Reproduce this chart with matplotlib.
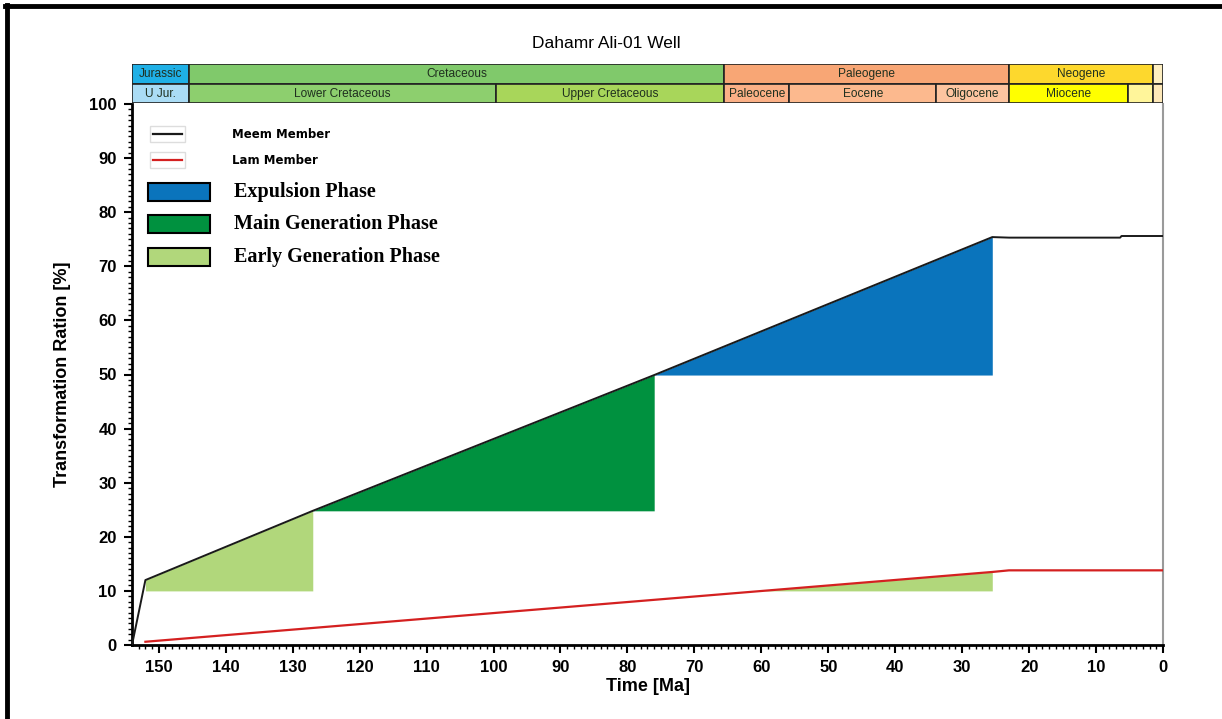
"""
Transformation ratio vs time, Dahamr Ali-01 well (Meem and Lam members).
"""
import numpy as np
import matplotlib
import matplotlib.pyplot as plt
from matplotlib.patches import Rectangle
from matplotlib.lines import Line2D

matplotlib.use('Agg')

# Transformation ratio curves (age in Ma, TR in %)
meem_age = [154, 152, 127, 76, 25.5, 23, 6.4, 6.2, 0]
meem_tr = [0, 12, 24.8, 49.9, 75.4, 75.3, 75.3, 75.6, 75.6]
lam_age = [152, 25.5, 23, 0]
lam_tr = [0.6, 13.5, 13.8, 13.8]

# Phase windows: (member, start Ma, end Ma, base TR, phase)
phase_member = ['meem', 'meem', 'meem', 'lam']
phase_start = [152, 127, 76, 60]
phase_end = [127, 76, 25.5, 25.5]
phase_base = [10, 24.8, 49.9, 10]
phase_kind = ['early', 'main', 'expulsion', 'early']

PHASE_COLORS = {
    'expulsion': '#0a74bc',
    'main': '#00913f',
    'early': '#b1d77b',
}
PHASE_LABELS = {
    'expulsion': 'Expulsion Phase',
    'main': 'Main Generation Phase',
    'early': 'Early Generation Phase',
}

# Geologic time scale rows: (name, start Ma, end Ma, colour)
period_names = ['Jurassic', 'Cretaceous', 'Paleogene', 'Neogene', '']
period_bounds = [154, 145.5, 65.5, 23.0, 1.5, 0]
period_colors = ['#1fb0e6', '#80c96b', '#f8a675', '#fdd82d', '#fdeec0']

epoch_names = ['U Jur.', 'Lower Cretaceous', 'Upper Cretaceous', 'Paleocene',
               'Eocene', 'Oligocene', 'Miocene', '', '']
epoch_bounds = [154, 145.5, 99.6, 65.5, 55.8, 33.9, 23.0, 5.3, 1.5, 0]
epoch_colors = ['#aadcf5', '#8dcf6e', '#a8d65a', '#fbb086', '#fcb98e',
                '#fdc5a0', '#ffff00', '#fff59a', '#fde8b8']

W, H = 1222, 719
TICK_FONT = ['Liberation Sans Narrow', 'Liberation Sans', 'DejaVu Sans']


def series_for(member):
    if member == 'meem':
        return meem_age, meem_tr
    return lam_age, lam_tr


fig = plt.figure(figsize=(W / 100, H / 100), dpi=100)
ax = fig.add_axes([132 / W, 74 / H, 1031 / W, 541 / H])
ts = fig.add_axes([132 / W, 1 - 103 / H, 1031 / W, 39 / H], sharex=ax)

# phase fills
for member, a0, a1, base, kind in zip(phase_member, phase_start, phase_end,
                                      phase_base, phase_kind):
    age, tr = series_for(member)
    x = np.linspace(a1, a0, 200)
    top = np.interp(x, age[::-1], tr[::-1])
    ax.fill_between(x, base, top, where=top >= base, color=PHASE_COLORS[kind],
                    linewidth=0, zorder=2, interpolate=True)

ax.plot(meem_age, meem_tr, color='#1a1a1a', linewidth=1.4, zorder=3)
ax.plot(lam_age, lam_tr, color='#d42020', linewidth=1.6, zorder=3)

ax.set_xlim(154, 0)
ax.set_ylim(0, 100)
ax.set_xticks(np.arange(0, 151, 10))
ax.set_xticks(np.arange(0, 154, 1), minor=True)
ax.set_yticks(np.arange(0, 101, 10))
ax.set_yticks(np.arange(0, 101, 1), minor=True)
ax.tick_params(which='major', direction='out', length=6, width=1.5,
               labelsize=12, pad=5)
ax.tick_params(which='minor', direction='out', length=3, width=1)
for lab in ax.get_xticklabels() + ax.get_yticklabels():
    lab.set_fontfamily(TICK_FONT)
    lab.set_fontweight('bold')
ax.spines['left'].set_linewidth(2)
ax.spines['bottom'].set_linewidth(2)
ax.spines['right'].set_color('#9a9a9a')
ax.spines['right'].set_linewidth(1.5)
ax.spines['top'].set_visible(False)

ax.set_xlabel('Time [Ma]', fontsize=13, fontweight='bold',
              family=['Liberation Sans', 'DejaVu Sans'], labelpad=2)
ax.set_ylabel('Transformation Ration [%]', fontsize=13, fontweight='bold',
              family=['Liberation Sans', 'DejaVu Sans'], labelpad=13)

# time scale bar
ts.set_ylim(0, 2)
ts.axis('off')
for names, bounds, colors, y0 in [(period_names, period_bounds, period_colors, 1),
                                  (epoch_names, epoch_bounds, epoch_colors, 0)]:
    for i, name in enumerate(names):
        a0, a1 = bounds[i], bounds[i + 1]
        ts.add_patch(Rectangle((a1, y0), a0 - a1, 1, facecolor=colors[i],
                               edgecolor='#222222', linewidth=1.2))
        if name:
            ts.text((a0 + a1) / 2, y0 + 0.47, name, ha='center', va='center',
                    fontsize=8.6, color='#1f2f1f',
                    family=['Liberation Sans', 'DejaVu Sans'])

fig.text(606 / W, 1 - 43 / H, 'Dahamr Ali-01 Well', ha='center', va='center',
         fontsize=12.5, family=['Liberation Sans', 'DejaVu Sans'])

# legend, drawn in axes fraction coordinates
tr_ax = ax.transAxes


def px(x, y):
    return ((x - 132) / 1031, (645 - y) / 541)


for y, col, label in [(134, '#1a1a1a', 'Meem Member'), (160, '#d42020', 'Lam Member')]:
    bx, by = px(150, y + 8)
    ax.add_patch(Rectangle((bx, by), 35 / 1031, 16 / 541, transform=tr_ax,
                           facecolor='white', edgecolor='#dddddd', linewidth=1,
                           zorder=4))
    x0, yy = px(153, y)
    x1, _ = px(182, y)
    ax.add_line(Line2D([x0, x1], [yy, yy], transform=tr_ax, color=col,
                       linewidth=1.6, zorder=5))
    tx, ty = px(232, y)
    ax.text(tx, ty, label, transform=tr_ax, va='center', fontsize=8.5,
            fontweight='bold', family=['DejaVu Sans'], zorder=5)

for y, kind in [(192, 'expulsion'), (224, 'main'), (257, 'early')]:
    bx, by = px(148, y + 9)
    ax.add_patch(Rectangle((bx, by), 62 / 1031, 18 / 541, transform=tr_ax,
                           facecolor=PHASE_COLORS[kind], edgecolor='black',
                           linewidth=1.5, zorder=4))
    tx, ty = px(234, y)
    ax.text(tx, ty, PHASE_LABELS[kind], transform=tr_ax, va='center',
            fontsize=14.5, fontweight='bold',
            family=['Liberation Serif', 'DejaVu Serif'], zorder=5)

# outer frame (left and top edges of the original figure box)
fig.add_artist(Line2D([7 / W, 7 / W], [0, 1 - 5 / H], transform=fig.transFigure,
                      color='black', linewidth=3.5))
fig.add_artist(Line2D([5 / W, 1], [1 - 6 / H, 1 - 6 / H], transform=fig.transFigure,
                      color='black', linewidth=3.5))

fig.savefig('out.png', dpi=100)
plt.close(fig)
